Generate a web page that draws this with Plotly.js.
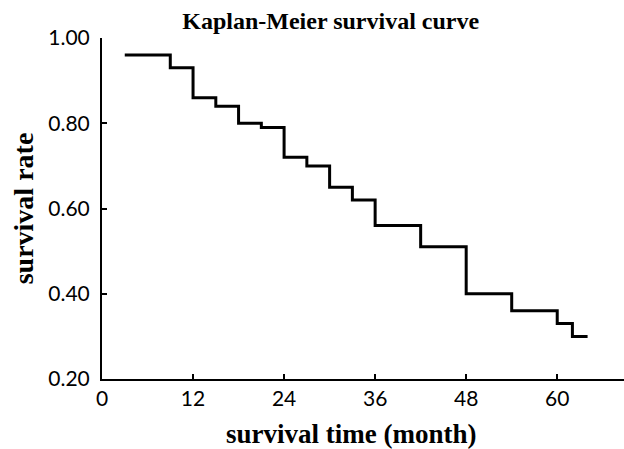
<!DOCTYPE html>
<html>
<head>
<meta charset="utf-8">
<script src="https://cdn.plot.ly/plotly-3.0.1.min.js"></script>
<style>html,body{margin:0;padding:0;background:#fff;}#chart{width:624px;height:449px;}</style>
</head>
<body>
<div id="chart"></div>
<script>
// Survival time (months) at each step and survival rate after the step
const months = [3, 9, 12, 15, 18, 21, 24, 27, 30, 33, 36, 42, 48, 54, 60, 62, 64];
const survivalRate = [0.96, 0.93, 0.86, 0.84, 0.80, 0.79, 0.72, 0.70, 0.65, 0.62, 0.56, 0.51, 0.40, 0.36, 0.33, 0.30, 0.30];
const xTicks = [0, 12, 24, 36, 48, 60];
const yTicks = [0.20, 0.40, 0.60, 0.80, 1.00];
const yTickText = ['0.20', '0.40', '0.60', '0.80', '1.00'];

const serif = 'Liberation Serif, Times New Roman, serif';
const sans = 'Lato, Open Sans, sans-serif';

const trace = {
  x: months,
  y: survivalRate,
  type: 'scatter',
  mode: 'lines',
  line: {shape: 'hv', color: '#000', width: 3},
  hoverinfo: 'none'
};

const layout = {
  width: 624,
  height: 449,
  margin: {l: 102, r: 0, t: 38, b: 70},
  paper_bgcolor: '#fff',
  plot_bgcolor: '#fff',
  showlegend: false,
  title: {
    text: 'Kaplan-Meier survival curve',
    font: {family: serif, size: 24, color: '#000', weight: 'bold'},
    xref: 'container', yref: 'container',
    x: 0.53, xanchor: 'center',
    y: 0.955, yanchor: 'middle'
  },
  annotations: [{
    text: 'survival time (month)',
    xref: 'paper', yref: 'paper',
    x: (351 - 102) / 522, y: -0.161,
    xanchor: 'center', yanchor: 'middle',
    showarrow: false,
    font: {family: serif, size: 27, color: '#000', weight: 'bold'}
  }],
  xaxis: {
    range: [0, 68.8],
    tickvals: xTicks,
    ticks: 'inside', ticklen: 5, tickwidth: 2, tickcolor: '#000',
    showline: true, linecolor: '#000', linewidth: 2,
    showgrid: false, zeroline: false,
    tickfont: {family: sans, size: 21, color: '#000'},
    automargin: false
  },
  yaxis: {
    range: [0.2, 1.0],
    tickvals: yTicks,
    ticktext: yTickText,
    ticks: 'inside', ticklen: 5, tickwidth: 2, tickcolor: '#000',
    showline: true, linecolor: '#000', linewidth: 2,
    showgrid: false, zeroline: false,
    tickfont: {family: sans, size: 21, color: '#000'},
    ticklabelstandoff: 6,
    title: {text: 'survival rate', font: {family: serif, size: 28, color: '#000', weight: 'bold'}, standoff: 6},
    automargin: false
  }
};

Plotly.newPlot('chart', [trace], layout, {staticPlot: true, displayModeBar: false});
</script>
</body>
</html>
